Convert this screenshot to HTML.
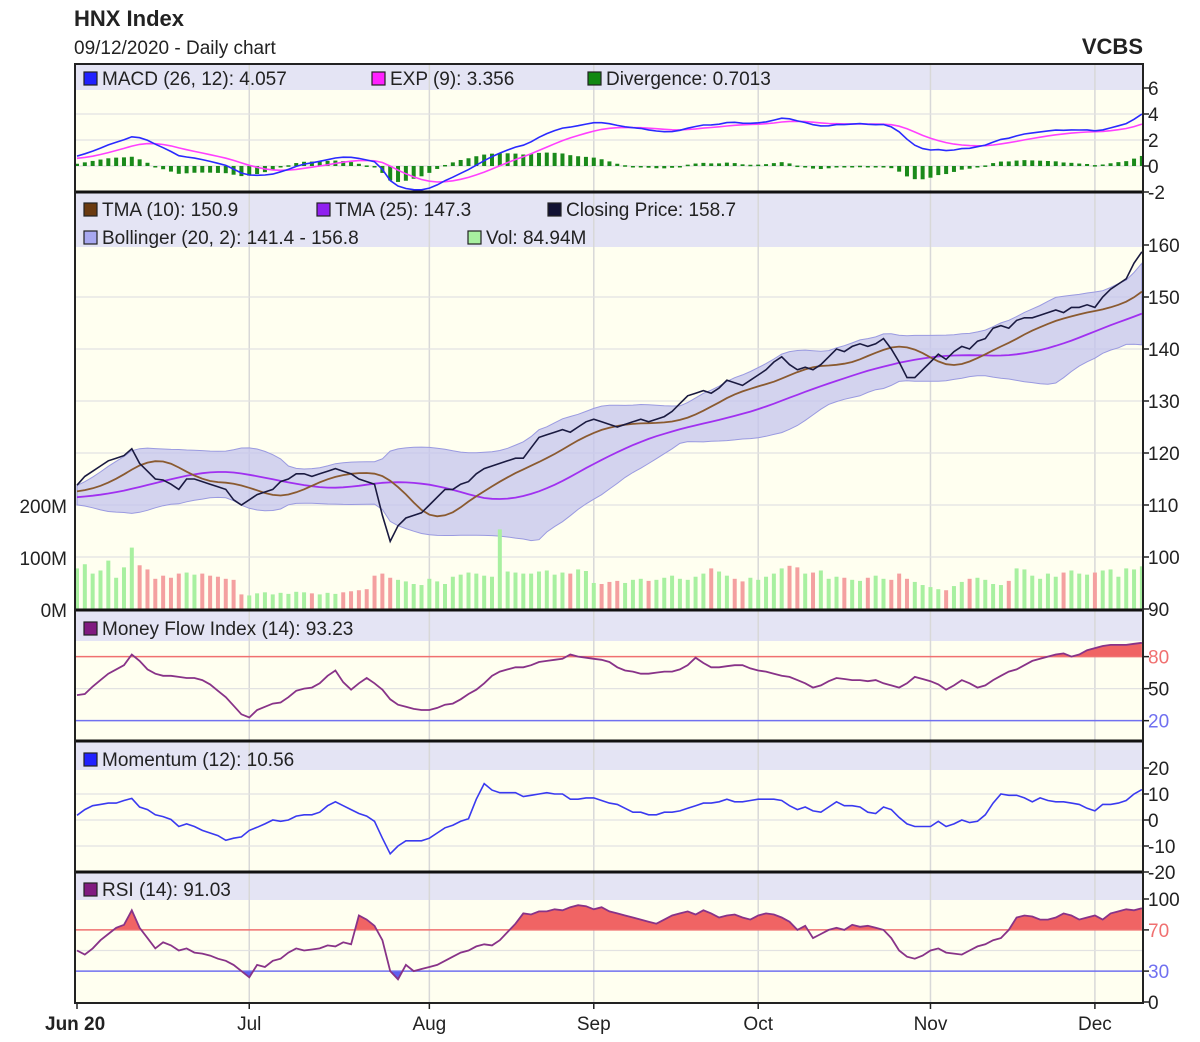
<!DOCTYPE html>
<html><head><meta charset="utf-8">
<style>
html,body{margin:0;padding:0;background:#fff;}
svg{display:block;font-family:"Liberation Sans",Arial,sans-serif;}
</style></head>
<body>
<svg id="chart" width="1200" height="1042" viewBox="0 0 1200 1042" xmlns="http://www.w3.org/2000/svg">
<text x="74" y="26" font-size="22" font-weight="bold" fill="#222">HNX Index</text>
<text x="74" y="54" font-size="19" fill="#222">09/12/2020 - Daily chart</text>
<text x="1143" y="54" font-size="22" font-weight="bold" fill="#222" text-anchor="end">VCBS</text>
<g id="layer"></g>
</svg>
<script>
// ---- data ----
const preCloses = [110,109.5,110,110.5,110,109.5,110,110.5,111,110.5,110,110.5,111,111.5,111,110.5,111,111.5,112,111.5,111,111.5,112,112.5,112,112.5,113,112.5,113,113.5];
const closes = [113.8,115.5,116.5,117.5,118.5,119,119.5,120.8,118,116.5,115,114.8,114,113,115,115,114.5,114,113.5,113,111,110,
111,112,112.5,113,114.5,115,116,116,115.5,116,116.5,117,116.5,116,115,114.5,114,108,103,106,107.5,108,108.5,
110,111.5,113,113,114,114.5,116,117,117.5,118,118.5,119,119,121,123,123.5,124,124.5,124,125,126,126.5,126,125.5,125,125.5,126,126.5,126,126.5,127,128,129.5,131,131.5,132,131.5,132.5,134,133.5,133,134,135,136,137.5,138.5,137,136,136.5,136,137,138.5,140,139.5,140.5,141,140.5,141,142,140,137.5,134.5,134.5,136,137.5,139,138,139.5,140.5,140,141.5,142,144,144.5,144,145.5,146,146,146.5,147,147.5,147,148,148,148.5,148,150,151.5,152.5,153.5,156.5,158.7];
const preVolumes = [70,72,75,68,80,74,70,72,78,80,76,74,70,72,75,78,80,82,79,77,75,73,74,76,78,80,77,75,74,76];
const volumes = [80,88,70,76,95,62,82,120,86,78,60,66,62,70,72,68,70,66,64,60,58,30,28,32,34,30,33,31,35,34,32,30,33,31,34,36,38,40,66,70,62,58,55,50,48,
60,55,50,64,68,72,70,66,64,155,74,72,70,70,74,76,68,72,70,78,75,52,50,54,56,52,58,60,56,58,62,66,60,58,64,70,80,74,66,60,55,62,58,64,70,80,85,82,70,72,76,60,64,62,58,56,62,66,60,58,70,60,54,48,44,40,38,46,54,60,62,58,50,48,56,80,78,66,60,70,64,72,76,70,68,72,76,78,64,80,78,84];
const rsiValues = [50,46,52,60,66,72,75,89,72,62,52,58,55,50,52,48,47,45,42,40,36,30,24,36,34,40,42,48,52,50,51,52,55,54,58,56,84,80,74,60,30,22,36,30,32,34,36,40,44,48,50,54,56,55,60,68,76,86,85,88,88,90,89,92,94,93,90,92,88,86,84,82,80,78,76,80,84,86,88,85,89,86,82,84,85,82,80,84,86,85,82,78,70,74,62,66,70,72,70,75,73,74,72,70,62,50,44,42,45,50,52,48,47,46,50,54,56,60,62,70,82,84,83,80,80,82,86,84,80,82,84,80,86,88,90,89,91];
const mfiValues = [44,45,52,58,64,68,72,82,76,68,64,62,62,61,60,60,58,54,48,42,34,26,23,30,33,36,37,42,48,50,51,55,62,67,56,49,55,60,55,49,40,35,33,31,30,30,32,35,36,40,45,49,55,62,66,68,70,70,72,75,76,77,78,82,80,79,78,77,75,70,67,66,64,64,65,66,66,68,72,79,74,70,70,71,72,72,69,67,66,64,62,61,58,55,51,53,57,60,59,58,58,57,58,55,53,51,55,61,59,57,54,49,53,58,55,51,53,58,62,66,68,72,76,78,80,82,83,80,82,86,88,90,91,91,91,92,93];
const monthLabels = ["Jun 20","Jul","Aug","Sep","Oct","Nov","Dec"];
const monthIdx = [0,22,45,66,87,109,130];
const macdTicks = [6,4,2,0,-2];
const priceTicks = [160,150,140,130,120,110,100,90];
const volTicks = [0,100,200];
const mfiTicks = [80,50,20];
const momTicks = [20,10,0,-10,-20];
const rsiTicks = [100,70,30,0];

// ---- scales ----
const X0=77, DX=7.83;
const N=closes.length;
const xs=i=>X0+i*DX;
const yMacd=v=>166-13*v;
const yPrice=p=>245+(160-p)*5.2;
const yVol=v=>610-v*0.52;
const yMfi=v=>742-v*1.067;
const yMom=v=>820-2.6*v;
const yRsi=v=>1002-1.03*v;

// ---- indicators ----
const allC=preCloses.concat(closes), P=preCloses.length;
function sma(a,n,i){let s=0,c=0;for(let k=Math.max(0,i-n+1);k<=i;k++){s+=a[k];c++;}return s/c;}
function smaArr(a,n){return a.map((_,i)=>sma(a,n,i));}
const tma10=smaArr(smaArr(allC,5),6), tma25=smaArr(smaArr(allC,13),13);
const bbU=[],bbL=[];
allC.forEach((_,i)=>{const m=sma(allC,20,i);let s=0,c=0;for(let k=Math.max(0,i-19);k<=i;k++){s+=(allC[k]-m)**2;c++;}const sd=Math.sqrt(s/c);bbU.push(m+2*sd);bbL.push(m-2*sd);});
function ema(a,n){const k=2/(n+1);const o=[a[0]];for(let i=1;i<a.length;i++)o.push(a[i]*k+o[i-1]*(1-k));return o;}
const e12=ema(allC,12),e26=ema(allC,26);
const macd=e12.map((v,i)=>v-e26[i]); const sig=ema(macd,9);
const mom=allC.map((v,i)=>v-allC[Math.max(0,i-12)]);

// ---- drawing ----
const NS="http://www.w3.org/2000/svg";
const layer=document.getElementById('layer');
function el(tag,attrs,parent){const e=document.createElementNS(NS,tag);for(const k in attrs)e.setAttribute(k,attrs[k]);(parent||layer).appendChild(e);return e;}
function txt(x,y,s,attrs){const t=el('text',Object.assign({x:x,y:y,'font-size':19,fill:'#222'},attrs||{}));t.textContent=s;return t;}
function path(arr,yf){return arr.map((v,i)=>(i?'L':'M')+xs(i).toFixed(1)+','+yf(v).toFixed(1)).join('');}
const seg=a=>a.slice(P);

const L=75,R=1143;
const panels=[[64,192,90],[193,610,247],[611,741,641],[742,871,770],[872,1003,900]];
panels.forEach(([t,b,lb],pi)=>{
  const bg=el('rect',{x:L,y:t,width:R-L,height:b-t,fill:'#fffff0'});
  
  
  const band=el('rect',{x:L,y:t,width:R-L,height:lb-t,fill:'#e4e4f4'});
  
  
  monthIdx.forEach(m=>{if(m>0){const g=el('line',{x1:xs(m),x2:xs(m),y1:t,y2:b,stroke:'#d8d8d8','stroke-width':1.5});}});
});
function hgrid(vals,yf,lb,b){vals.forEach(v=>{const y=yf(v);if(y>lb&&y<b){const g=el('line',{x1:L,x2:R,y1:y,y2:y,stroke:'#e2e2e2','stroke-width':1.2});}});}
hgrid(macdTicks,yMacd,90,192);hgrid(priceTicks,yPrice,247,610);hgrid([50],yMfi,641,741);hgrid(momTicks,yMom,770,871);hgrid([50],yRsi,900,1003);

// MACD panel
const macdS=seg(macd),sigS=seg(sig);
macdS.forEach((v,i)=>{const d=v-sigS[i];const y0=yMacd(0),y1=yMacd(d);const r=el('rect',{x:xs(i)-2,y:Math.min(y0,y1),width:4,height:Math.max(1.5,Math.abs(y1-y0)),fill:'#1a8a1a'});});
let e=el('path',{d:path(sigS,yMacd),fill:'none',stroke:'#ff40ff','stroke-width':1.6});
e=el('path',{d:path(macdS,yMacd),fill:'none',stroke:'#2a2aff','stroke-width':1.6});

// main panel
const up=seg(bbU),lo=seg(bbL);
let bd=path(up,yPrice)+lo.slice().reverse().map((v,j)=>'L'+xs(N-1-j).toFixed(1)+','+yPrice(v).toFixed(1)).join('')+'Z';
e=el('path',{d:bd,fill:'#c4c4ee','fill-opacity':0.75,stroke:'#9a9ae0','stroke-width':1});
volumes.forEach((v,i)=>{const upd=i===0?true:closes[i]>=closes[i-1];const r=el('rect',{x:xs(i)-2,y:yVol(v),width:4,height:610-yVol(v),fill:upd?'#a8f0a0':'#f4a0a0'});});
e=el('path',{d:path(seg(tma25),yPrice),fill:'none',stroke:'#a030f0','stroke-width':1.8});
e=el('path',{d:path(seg(tma10),yPrice),fill:'none',stroke:'#8a5a30','stroke-width':1.8});
e=el('path',{d:path(closes,yPrice),fill:'none',stroke:'#1a1a40','stroke-width':1.6});

// threshold panels
function threshPanel(arr,yf,hi,lo_,name){
  const cl=el('clipPath',{id:name+'hi'});el('rect',{x:L,y:0,width:R-L,height:yf(hi)},cl);
  const cl2=el('clipPath',{id:name+'lo'});el('rect',{x:L,y:yf(lo_),width:R-L,height:400},cl2);
  const d=path(arr,yf);
  let f=el('path',{d:d+'L'+xs(N-1)+','+yf(hi)+'L'+xs(0)+','+yf(hi)+'Z',fill:'#f06464','clip-path':'url(#'+name+'hi)'});
  f=el('path',{d:d+'L'+xs(N-1)+','+yf(lo_)+'L'+xs(0)+','+yf(lo_)+'Z',fill:'#6060f0','clip-path':'url(#'+name+'lo)'});
  let l=el('line',{x1:L,x2:R,y1:yf(hi),y2:yf(hi),stroke:'#f07070','stroke-width':1.5});
  l=el('line',{x1:L,x2:R,y1:yf(lo_),y2:yf(lo_),stroke:'#7070f0','stroke-width':1.5});
  l=el('path',{d:d,fill:'none',stroke:'#883388','stroke-width':1.8});
}
threshPanel(mfiValues,yMfi,80,20,'mfi');
threshPanel(rsiValues,yRsi,70,30,'rsi');
e=el('path',{d:path(seg(mom),yMom),fill:'none',stroke:'#3a3af0','stroke-width':1.6});

// borders
[192,610,741,872].forEach(y=>{const b=el('line',{x1:L-1,x2:R+1,y1:y,y2:y,stroke:'#111','stroke-width':3});});
e=el('rect',{x:L,y:64,width:R-L,height:939,fill:'none',stroke:'#222','stroke-width':2});

// right axis ticks
function ticks(vals,yf,colors){vals.forEach((v,k)=>{const y=yf(v);const tk=el('line',{x1:R,x2:R+6,y1:y,y2:y,stroke:'#222','stroke-width':1.5});const t=txt(R+5,y+7,String(v),{'font-size':19,fill:colors?colors[k]:'#222'});});}
ticks(macdTicks,yMacd);ticks(priceTicks,yPrice);
ticks(mfiTicks,yMfi,['#f07070','#222','#7070f0']);
ticks(momTicks,yMom);
ticks(rsiTicks,yRsi,['#222','#f07070','#7070f0','#222']);
volTicks.forEach(v=>{const t=txt(67,yVol(v)+7,v+'M',{'text-anchor':'end'});});
monthIdx.forEach((m,k)=>{const tk=el('line',{x1:xs(m),x2:xs(m),y1:1003,y2:1009,stroke:'#222','stroke-width':1.5});
  const t=txt(k===0?45:xs(m),1030,monthLabels[k],{'text-anchor':k===0?'start':'middle','font-weight':k===0?'bold':'normal'});});

// legends
function leg(x,y,color,label){const r=el('rect',{x:x,y:y-13,width:13,height:13,fill:color,stroke:'#222','stroke-width':1.2});const t=txt(x+18,y,label);}
leg(84,85,'#2020ff','MACD (26, 12): 4.057');leg(372,85,'#ff20ff','EXP (9): 3.356');leg(588,85,'#118811','Divergence: 0.7013');
leg(84,216,'#6a3a10','TMA (10): 150.9');leg(317,216,'#9020f0','TMA (25): 147.3');leg(548,216,'#111133','Closing Price: 158.7');
leg(84,244,'#a8a8f0','Bollinger (20, 2): 141.4 - 156.8');leg(468,244,'#a8f0a0','Vol: 84.94M');
leg(84,635,'#801a80','Money Flow Index (14): 93.23');
leg(84,766,'#2020ff','Momentum (12): 10.56');
leg(84,896,'#801a80','RSI (14): 91.03');
</script>
</body></html>
